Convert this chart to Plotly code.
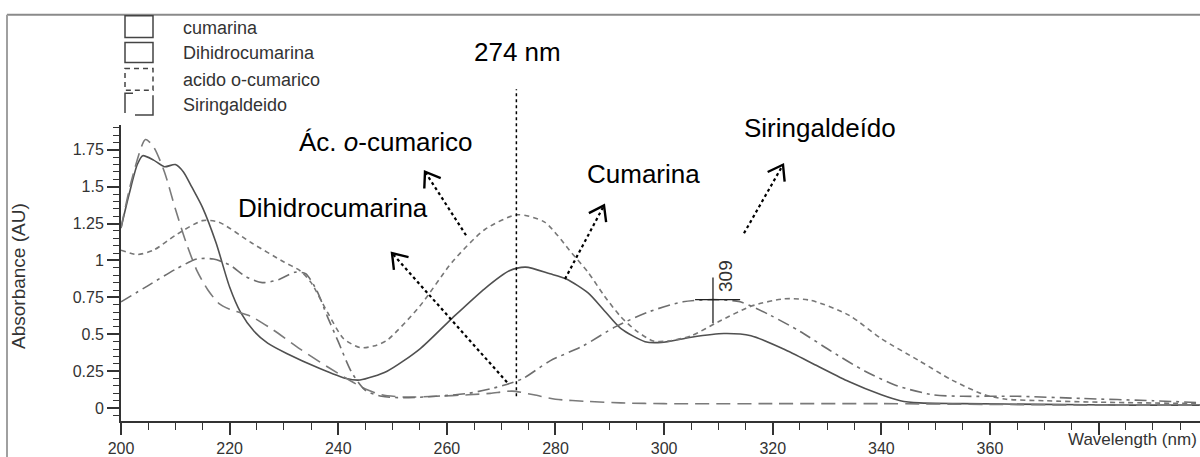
import math
import plotly.graph_objects as go

# ---- data (wavelength nm, absorbance AU) ----
wl_cum = [200, 201.5, 203, 204, 206, 208, 210, 211.5, 213, 215, 217.5, 220, 222, 224.5, 227,
          230.5, 236.5, 241.5, 244, 249, 255, 261, 267, 271.5, 274.5, 279, 282, 286, 289, 292,
          296.5, 299.5, 305, 311, 316, 322, 328, 334, 340, 343.5, 347, 355, 370, 385, 400]
abs_cum = [1.22, 1.45, 1.65, 1.71, 1.68, 1.635, 1.65, 1.6, 1.5, 1.36, 1.12, 0.82, 0.65, 0.52, 0.44,
           0.37, 0.27, 0.20, 0.19, 0.25, 0.40, 0.61, 0.81, 0.93, 0.955, 0.91, 0.875, 0.78, 0.66, 0.54,
           0.45, 0.445, 0.48, 0.505, 0.49, 0.40, 0.29, 0.18, 0.09, 0.05, 0.035, 0.03, 0.025, 0.02, 0.02]

wl_dih = [200, 202, 204.5, 206, 208, 210, 212, 214, 216, 218, 220, 224, 228, 233, 238, 242, 245,
          248, 252, 258, 264, 268, 272, 276, 280, 286, 292, 300, 320, 340, 360, 380, 400]
abs_dih = [1.22, 1.55, 1.82, 1.77, 1.60, 1.35, 1.12, 0.93, 0.80, 0.71, 0.67, 0.62, 0.53, 0.40, 0.28,
           0.19, 0.13, 0.09, 0.075, 0.08, 0.09, 0.10, 0.115, 0.09, 0.06, 0.045, 0.035, 0.03, 0.03,
           0.03, 0.025, 0.02, 0.02]

wl_sir = [200, 205, 210, 214, 217, 220, 223, 226, 229, 232, 234, 236, 238, 240, 242.5, 245, 248,
          252, 258, 264, 268, 271, 274, 279, 285, 291, 297, 303.5, 309, 314, 319.5, 325, 331, 337,
          343, 349.5, 355, 365, 377, 390, 400]
abs_sir = [0.72, 0.83, 0.94, 1.01, 1.01, 0.97, 0.89, 0.85, 0.87, 0.92, 0.91, 0.80, 0.62, 0.45, 0.24,
           0.12, 0.08, 0.07, 0.08, 0.10, 0.13, 0.16, 0.20, 0.32, 0.42, 0.55, 0.65, 0.72, 0.735, 0.72,
           0.63, 0.52, 0.38, 0.25, 0.15, 0.09, 0.08, 0.08, 0.065, 0.05, 0.035]

wl_aco = [200, 203, 206, 210, 215, 218, 224, 230, 233, 235, 238, 241, 244, 246.5, 249, 255, 261,
          267, 273, 278, 283, 286, 289, 292, 295, 298, 301, 305, 310, 316, 322, 327, 334, 340, 347,
          353, 359, 363, 370, 380, 400]
abs_aco = [1.07, 1.04, 1.07, 1.17, 1.27, 1.26, 1.12, 0.99, 0.93, 0.85, 0.65, 0.47, 0.41, 0.42, 0.46,
           0.69, 0.99, 1.21, 1.31, 1.26, 1.05, 0.92, 0.76, 0.62, 0.52, 0.455, 0.455, 0.49, 0.585,
           0.69, 0.74, 0.73, 0.63, 0.47, 0.32, 0.19, 0.09, 0.06, 0.05, 0.04, 0.03]

legend_names = ["cumarina", "Dihidrocumarina", "acido o-cumarico", "Siringaldeido"]
x_ticks = [200, 220, 240, 260, 280, 300, 320, 340, 360, 380, 400]
x_labels = ["200", "220", "240", "260", "280", "300", "320", "340", "360", "", ""]
y_ticks = [0, 0.25, 0.5, 0.75, 1, 1.25, 1.5, 1.75]
y_labels = ["0", "0.25", "0.5", "0.75", "1", "1.25", "1.5", "1.75"]
peak_nm = 272.8
peak_309 = (309, 0.735)

# plot area in pixels
L, T, R, B = 121, 125, 1200, 423
PXNM, PXAU = 5.431, 148.6


def px(x):
    return (x - L) / (R - L)


def py(y):
    return (B - y) / (B - T)


SANS = "Liberation Sans, Arial, sans-serif"

fig = go.Figure()
series = [
    (wl_cum, abs_cum, "#505050", "solid"),
    (wl_dih, abs_dih, "#7a7a7a", "14px,7px"),
    (wl_sir, abs_sir, "#6e6e6e", "12px,5px,3px,5px"),
    (wl_aco, abs_aco, "#777777", "5px,4px"),
]
for xs, ys, col, dash in series:
    fig.add_trace(go.Scatter(x=xs, y=ys, mode="lines",
                             line=dict(color=col, width=1.6, dash=dash, shape="spline", smoothing=0.7),
                             showlegend=False, hoverinfo="skip"))

shapes = []
annotations = []

# outer frame
shapes.append(dict(type="line", xref="paper", yref="paper", x0=px(7), x1=px(1200), y0=py(14), y1=py(14),
                   line=dict(color="#8a8a8a", width=2)))
shapes.append(dict(type="line", xref="paper", yref="paper", x0=px(7), x1=px(7), y0=py(14), y1=py(460),
                   line=dict(color="#a0a0a0", width=2)))

# legend boxes
bx0, bx1 = 125, 153
rows = [(15, 37), (42, 62), (68, 90), (93, 115)]
for y0, y1 in rows[:2]:
    shapes.append(dict(type="rect", xref="paper", yref="paper", x0=px(bx0), x1=px(bx1), y0=py(y0), y1=py(y1),
                       line=dict(color="#444", width=1.5)))
y0, y1 = rows[2]
shapes.append(dict(type="rect", xref="paper", yref="paper", x0=px(bx0), x1=px(bx1), y0=py(y0), y1=py(y1),
                   line=dict(color="#444", width=1.5, dash="5px,4px")))
y0, y1 = rows[3]
shapes.append(dict(type="path", xref="paper", yref="paper",
                   path=f"M {px(133)} {py(y0)} L {px(bx0)} {py(y0)} L {px(bx0)} {py(y1 - 2)}",
                   line=dict(color="#444", width=1.5)))
shapes.append(dict(type="path", xref="paper", yref="paper",
                   path=f"M {px(135)} {py(y1)} L {px(bx1)} {py(y1)} L {px(bx1)} {py(y0 + 2)}",
                   line=dict(color="#444", width=1.5)))
for name, (y0, y1) in zip(legend_names, rows):
    annotations.append(dict(xref="paper", yref="paper", x=px(181), y=py((y0 + y1) / 2 + 1), text=name,
                            showarrow=False, xanchor="left", yanchor="middle",
                            font=dict(family=SANS, size=18, color="#333")))

# 274 nm marker line
shapes.append(dict(type="line", xref="x", yref="paper", x0=peak_nm, x1=peak_nm, y0=py(398), y1=py(89),
                   line=dict(color="black", width=1.5, dash="dot")))
annotations.append(dict(xref="paper", yref="paper", x=px(517), y=py(52), text="274 nm", showarrow=False,
                        xanchor="center", yanchor="middle",
                        font=dict(family=SANS, size=26, color="black")))

# 309 cross
cx, cy = peak_309
shapes.append(dict(type="line", xref="x", yref="y", x0=cx - 3.3, x1=cx + 5, y0=cy, y1=cy,
                   line=dict(color="#222", width=1.3)))
shapes.append(dict(type="line", xref="x", yref="y", x0=cx, x1=cx, y0=cy - 0.16, y1=cy + 0.15,
                   line=dict(color="#222", width=1.3)))
annotations.append(dict(xref="paper", yref="paper", x=px(726), y=py(277), text="309", showarrow=False,
                        xanchor="center", yanchor="middle", textangle=-90,
                        font=dict(family=SANS, size=19, color="#333")))

# compound labels
labels = [("Ác. <i>o</i>-cumarico", 385, 142), ("Dihidrocumarina", 333, 209),
          ("Cumarina", 643, 174), ("Siringaldeído", 820, 128)]
for txt, x, y in labels:
    annotations.append(dict(xref="paper", yref="paper", x=px(x), y=py(y), text=txt, showarrow=False,
                            xanchor="center", yanchor="middle",
                            font=dict(family=SANS, size=26, color="black")))

# dotted arrows (tail -> tip in pixels)
arrows = [((466, 236), (425, 172)), ((507, 384), (392, 254)),
          ((565, 280), (604, 206)), ((744, 234), (783, 165))]
for (tx, ty), (hx, hy) in arrows:
    shapes.append(dict(type="line", xref="paper", yref="paper", x0=px(tx), y0=py(ty), x1=px(hx), y1=py(hy),
                       line=dict(color="black", width=2.2, dash="dot")))
    dx, dy = tx - hx, ty - hy
    n = math.hypot(dx, dy)
    dx, dy = dx / n, dy / n
    pts = []
    for a in (math.radians(35), math.radians(-35)):
        rx = dx * math.cos(a) - dy * math.sin(a)
        ry = dx * math.sin(a) + dy * math.cos(a)
        pts.append((hx + 17 * rx, hy + 17 * ry))
    shapes.append(dict(type="path", xref="paper", yref="paper",
                       path=f"M {px(pts[0][0])} {py(pts[0][1])} L {px(hx)} {py(hy)} L {px(pts[1][0])} {py(pts[1][1])}",
                       line=dict(color="black", width=2.4)))

# axis titles
annotations.append(dict(xref="paper", yref="paper", x=px(1066), y=py(442), text="Wavelength (nm)",
                        showarrow=False, xanchor="left", yanchor="middle",
                        font=dict(family=SANS, size=17, color="#333")))
annotations.append(dict(xref="paper", yref="paper", x=px(19), y=py(277), text="Absorbance (AU)",
                        showarrow=False, textangle=-90, xanchor="center", yanchor="middle",
                        font=dict(family=SANS, size=19, color="#333")))

fig.update_layout(
    width=1200, height=457,
    margin=dict(l=L, r=1200 - R, t=T, b=457 - B, pad=0),
    paper_bgcolor="white", plot_bgcolor="white",
    shapes=shapes, annotations=annotations,
    xaxis=dict(range=[200, 200 + (R - L) / PXNM], tickmode="array", tickvals=x_ticks, ticktext=x_labels,
               ticks="outside", ticklen=12, tickwidth=1.5, tickcolor="#333",
               showline=True, linecolor="#333", linewidth=2, showgrid=False, zeroline=False,
               tickfont=dict(family=SANS, size=16, color="#333"),
               minor=dict(tickmode="linear", tick0=200, dtick=5, ticks="outside", ticklen=7,
                          tickwidth=1.3, tickcolor="#333", showgrid=False)),
    yaxis=dict(range=[(410 - B) / PXAU, (410 - T) / PXAU], tickmode="array", tickvals=y_ticks,
               ticktext=y_labels, ticks="outside", ticklen=12, tickwidth=1.5, tickcolor="#333",
               showline=True, linecolor="#333", linewidth=2, showgrid=False, zeroline=False,
               tickfont=dict(family=SANS, size=16, color="#333"),
               minor=dict(tickmode="linear", tick0=0, dtick=0.05, ticks="outside", ticklen=6,
                          tickwidth=1.2, tickcolor="#333", showgrid=False)),
)

fig.write_html("out.html", config={"displayModeBar": False},
               post_script="document.body.style.margin='0';document.body.style.overflow='hidden';")
